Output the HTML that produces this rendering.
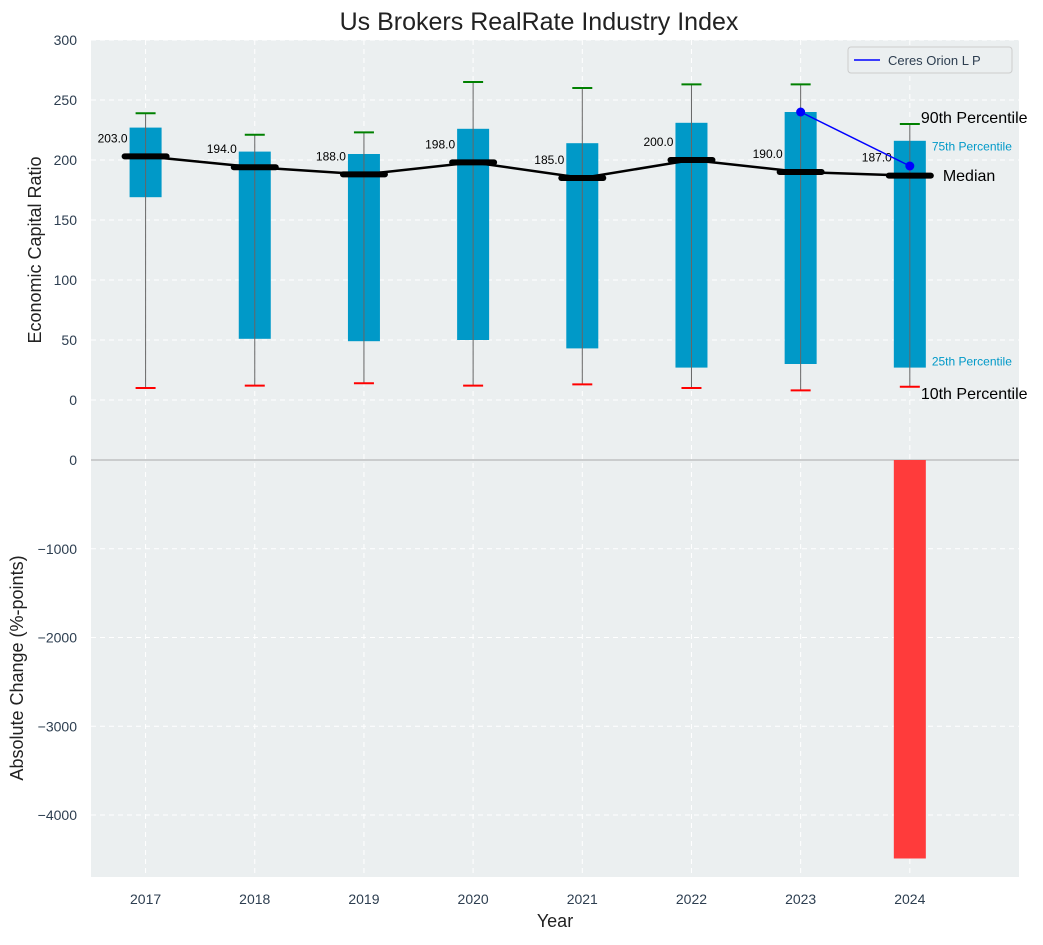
<!DOCTYPE html>
<html><head><meta charset="utf-8"><style>
body{margin:0;background:#fff;font-family:"Liberation Sans",sans-serif}
svg text{font-family:"Liberation Sans",sans-serif}
</style></head><body>
<svg id="c" width="1043" height="940" xmlns="http://www.w3.org/2000/svg"></svg>
<script>
const years=[2017,2018,2019,2020,2021,2022,2023,2024];
const p10=[10,12,14,12,13,10,8,11];
const p25=[169,51,49,50,43,27,30,27];
const med=[203,194,188,198,185,200,190,187];
const p75=[227,207,205,226,214,231,240,216];
const p90=[239,221,223,265,260,263,263,230];
const compYears=[2023,2024];
const compVals=[240,195];
const changeYears=[2024];
const changeVals=[-4490];
const topTicks=[0,50,100,150,200,250,300];
const botTicks=[0,-1000,-2000,-3000,-4000];

const S=document.getElementById('c');const NS='http://www.w3.org/2000/svg';
function el(t,a,p){const e=document.createElementNS(NS,t);for(const k in a)e.setAttribute(k,a[k]);(p||S).appendChild(e);return e;}
const L=91,R=1019;
const x=v=>L+(v-2016.5)/(2025-2016.5)*(R-L);
const yT=v=>400-v*1.2;
const yb=v=>460-v*0.08875;
let e=el('rect',{x:L,y:40,width:R-L,height:420,fill:'#ebeff0'});

e=el('rect',{x:L,y:460,width:R-L,height:417,fill:'#ebeff0'});

topTicks.forEach(t=>{el('line',{x1:L,x2:R,y1:yT(t),y2:yT(t),stroke:'#fff','stroke-dasharray':'5,4'});
 e=el('text',{x:77,y:yT(t)+5,'text-anchor':'end','font-size':14,fill:'#2d3e50'});e.textContent=t;
 });
botTicks.forEach(t=>{el('line',{x1:L,x2:R,y1:yb(t),y2:yb(t),stroke:'#fff','stroke-dasharray':'5,4'});
 e=el('text',{x:77,y:yb(t)+5,'text-anchor':'end','font-size':14,fill:'#2d3e50'});e.textContent=t===0?'0':'\u2212'+(-t);
 });
years.forEach(yr=>{el('line',{x1:x(yr),x2:x(yr),y1:40,y2:877,stroke:'#fff','stroke-dasharray':'5,4'});
 e=el('text',{x:x(yr),y:904,'text-anchor':'middle','font-size':14,fill:'#2d3e50'});e.textContent=yr;
 });
el('line',{x1:L,x2:R,y1:460,y2:460,stroke:'#aaa','stroke-width':1});
years.forEach((yr,i)=>{const cx=x(yr);
 e=el('rect',{x:cx-16,y:yT(p75[i]),width:32,height:yT(p25[i])-yT(p75[i]),fill:'#0099c8'});
 
 e=el('line',{x1:cx,x2:cx,y1:yT(p10[i]),y2:yT(p90[i]),stroke:'#666','stroke-width':1});
 
 e=el('line',{x1:cx-10,x2:cx+10,y1:yT(p90[i]),y2:yT(p90[i]),stroke:'green','stroke-width':2});
 
 e=el('line',{x1:cx-10,x2:cx+10,y1:yT(p10[i]),y2:yT(p10[i]),stroke:'red','stroke-width':2});
 
});
e=el('polyline',{points:years.map((yr,i)=>x(yr)+','+yT(med[i])).join(' '),fill:'none',stroke:'#000','stroke-width':2.5});

years.forEach((yr,i)=>{const cx=x(yr);
 e=el('line',{x1:cx-21,x2:cx+21,y1:yT(med[i]),y2:yT(med[i]),stroke:'#000','stroke-width':6,'stroke-linecap':'round'});
 
 e=el('text',{x:cx-33,y:yT(med[i])-14,'text-anchor':'middle','font-size':12,fill:'#000'});e.textContent=med[i].toFixed(1);
 
});
e=el('polyline',{points:compYears.map((yr,i)=>x(yr)+','+yT(compVals[i])).join(' '),fill:'none',stroke:'blue','stroke-width':1.5});

compYears.forEach((yr,i)=>{e=el('circle',{cx:x(yr),cy:yT(compVals[i]),r:4.5,fill:'blue'});
 });
changeYears.forEach((yr,i)=>{e=el('rect',{x:x(yr)-16,y:yb(0),width:32,height:yb(changeVals[i])-yb(0),fill:'#ff3b3b'});
 });
const li=years.length-1,lx=x(years[li]);
[['90th Percentile',p90[li]+5.8,11,16,'#000'],['75th Percentile',p75[li]-4.3,22,12,'#0099c8'],['Median',med[li]+0.5,33,16,'#000'],['25th Percentile',p25[li]+5.5,22,12,'#0099c8'],['10th Percentile',p10[li]-5.2,11,16,'#000']].forEach(a=>{
 e=el('text',{x:lx+a[2],y:yT(a[1])+a[3]*0.36,'font-size':a[3],fill:a[4]});e.textContent=a[0];
 });
e=el('rect',{x:848,y:47,width:164,height:26,fill:'#ebeff0',stroke:'#ccc',rx:3});

el('line',{x1:854,x2:880,y1:60,y2:60,stroke:'blue','stroke-width':1.5});
e=el('text',{x:888,y:65,'font-size':13,fill:'#2d3e50'});e.textContent='Ceres Orion L P';

e=el('text',{x:539,y:30,'text-anchor':'middle','font-size':25,fill:'#222'});e.textContent='Us Brokers RealRate Industry Index';

e=el('text',{x:555,y:927,'text-anchor':'middle','font-size':18,fill:'#222'});e.textContent='Year';

e=el('text',{x:0,y:0,'text-anchor':'middle','font-size':18,fill:'#222',transform:'translate(41,250) rotate(-90)'});e.textContent='Economic Capital Ratio';

e=el('text',{x:0,y:0,'text-anchor':'middle','font-size':18,fill:'#222',transform:'translate(23,668) rotate(-90)'});e.textContent='Absolute Change (%-points)';

</script>
</body></html>
